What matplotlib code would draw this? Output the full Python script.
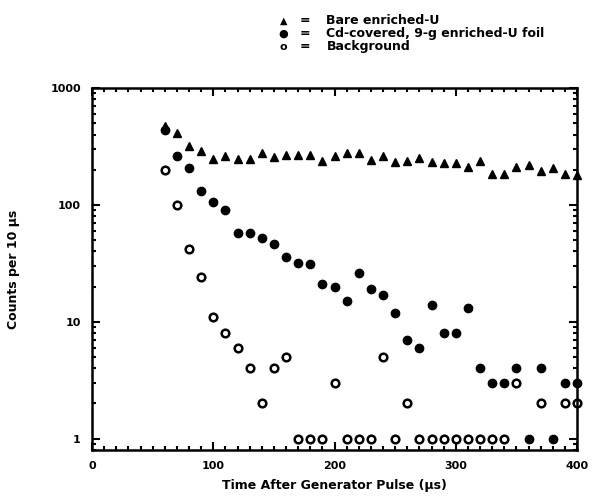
import matplotlib.pyplot as plt
import matplotlib.ticker as mticker
import numpy as np

nan = np.nan

# time after generator pulse (us)
t = [60, 70, 80, 90, 100, 110, 120, 130, 140, 150, 160, 170, 180, 190, 200, 210, 220, 230,
     240, 250, 260, 270, 280, 290, 300, 310, 320, 330, 340, 350, 360, 370, 380, 390, 400]

bare = [470, 412, 319, 290, 247, 263, 247, 246, 280, 259, 267, 267, 267, 239, 262, 276, 280, 243,
        262, 235, 239, 251, 235, 230, 227, 210, 239, 184, 184, 213, 220, 196, 208, 184, 181]

cd = [440, 262, 206, 131, 105, 91, 57, 57, 52, 46, 36, 32, 31, 21, 20, 15, 26, 19,
      17, 12, 7, 6, 14, 8, 8, 13, 4, 3, 3, 4, 1, 4, 1, 3, 3]

bkg = [200, 100, 42, 24, 11, 8, 6, 4, 2, 4, 5, 1, 1, 1, 3, 1, 1, 1,
       5, 1, 2, 1, 1, 1, 1, 1, 1, 1, 1, 3, nan, 2, nan, 2, 2]

fig = plt.figure(figsize=(6.16, 4.98), dpi=100)
ax = fig.add_axes([0.1494, 0.0964, 0.7873, 0.7269])

ax.plot(t, bare, ls='none', marker='^', ms=6, color='black', clip_on=False)
ax.plot(t, cd, ls='none', marker='o', ms=6, color='black', clip_on=False)
ax.plot(t, bkg, ls='none', marker='o', ms=5.5, mfc='white', mec='black', mew=1.8, clip_on=False)

ax.set_yscale('log')
ax.set_xlim(0, 400)
ax.set_ylim(0.8, 1000)

ax.xaxis.set_major_locator(mticker.MultipleLocator(100))
ax.xaxis.set_minor_locator(mticker.MultipleLocator(10))
ax.yaxis.set_major_locator(mticker.FixedLocator([1, 10, 100, 1000]))
ax.yaxis.set_major_formatter(mticker.FixedFormatter(['1', '10', '100', '1000']))
ax.yaxis.set_minor_locator(mticker.LogLocator(base=10, subs=np.arange(2, 10)))
ax.yaxis.set_minor_formatter(mticker.NullFormatter())

ax.tick_params(which='both', direction='in', top=True, right=True, width=1.5)
ax.tick_params(which='major', length=6, labelsize=8, pad=8)
ax.tick_params(which='minor', length=3)
for lab in ax.get_xticklabels() + ax.get_yticklabels():
    lab.set_fontweight('bold')
for sp in ax.spines.values():
    sp.set_linewidth(1.8)

ax.set_xlabel('Time After Generator Pulse (\u03bcs)', fontsize=9, fontweight='bold', labelpad=6)
ax.set_ylabel('Counts per 10 \u03bcs', fontsize=9, fontweight='bold', labelpad=22)

# legend block at the top
fig.text(0.46, 0.958, '\u25b2', fontsize=7, ha='center', va='center')
fig.text(0.46, 0.932, '\u25cf', fontsize=8, ha='center', va='center')
fig.text(0.46, 0.906, 'o', fontsize=8, fontweight='bold', ha='center', va='center')
for yy, txt in [(0.958, 'Bare enriched-U'),
                (0.932, 'Cd-covered, 9-g enriched-U foil'),
                (0.906, 'Background')]:
    fig.text(0.495, yy, '=', fontsize=9, fontweight='bold', ha='center', va='center')
    fig.text(0.53, yy, txt, fontsize=9, fontweight='bold', ha='left', va='center')

fig.savefig('out.png', dpi=100)
